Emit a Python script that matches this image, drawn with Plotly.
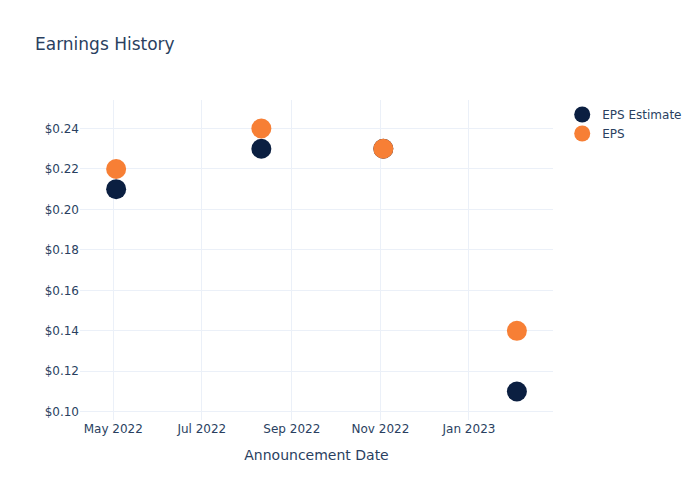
import plotly.graph_objects as go

dates = ["2022-05-03", "2022-08-11", "2022-11-03", "2023-02-03"]
eps_estimate = [0.21, 0.23, 0.23, 0.11]
eps_actual = [0.22, 0.24, 0.23, 0.14]

fig = go.Figure()
fig.add_trace(go.Scatter(x=dates, y=eps_estimate, mode="markers", name="EPS Estimate",
                         marker=dict(color="#0b1f41", size=20)))
fig.add_trace(go.Scatter(x=dates, y=eps_actual, mode="markers", name="EPS",
                         marker=dict(color="#f77f35", size=20)))
fig.update_layout(
    template="plotly_white",
    width=700, height=500,
    margin=dict(l=72, r=88, t=92, b=88),
    font=dict(family="DejaVu Sans"),
    title=dict(text="Earnings History", x=27/700, xref="container",
               y=1 - 36/500, yref="container", yanchor="middle"),
    xaxis=dict(title=dict(text="Announcement Date"), domain=[0, 0.876]),
    yaxis=dict(tickprefix="$", tickformat=".2f"),
    legend=dict(x=0.893, xanchor="left", y=1, yanchor="top"),
)
fig.write_html("out.html")
